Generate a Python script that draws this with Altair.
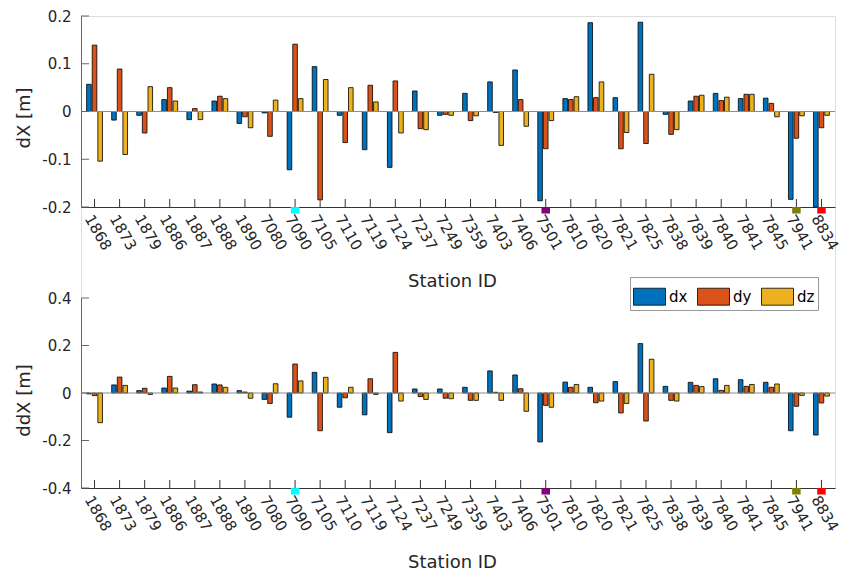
import altair as alt
import pandas as pd

stations = ["1868", "1873", "1879", "1886", "1887", "1888", "1890", "7080", "7090", "7105",
            "7110", "7119", "7124", "7237", "7249", "7359", "7403", "7406", "7501", "7810",
            "7820", "7821", "7825", "7838", "7839", "7840", "7841", "7845", "7941", "8834"]

top_dx = [0.057, -0.018, -0.008, 0.025, -0.017, 0.022, -0.025, -0.003, -0.122, 0.094,
          -0.008, -0.080, -0.117, 0.043, -0.008, 0.038, 0.062, 0.087, -0.187, 0.027,
          0.186, 0.029, 0.187, -0.006, 0.022, 0.038, 0.027, 0.028, -0.184, -0.215]
top_dy = [0.139, 0.089, -0.045, 0.050, 0.006, 0.032, -0.011, -0.052, 0.141, -0.185,
          -0.065, 0.055, 0.064, -0.036, -0.006, -0.019, -0.002, 0.025, -0.078, 0.025,
          0.029, -0.078, -0.067, -0.048, 0.032, 0.023, 0.036, 0.017, -0.056, -0.034]
top_dz = [-0.104, -0.090, 0.052, 0.022, -0.017, 0.027, -0.034, 0.024, 0.027, 0.067,
          0.050, 0.020, -0.045, -0.038, -0.008, -0.009, -0.071, -0.031, -0.019, 0.031,
          0.062, -0.044, 0.078, -0.038, 0.034, 0.030, 0.036, -0.011, -0.009, -0.008]

bot_dx = [-0.004, 0.034, 0.010, 0.021, 0.008, 0.038, 0.010, -0.027, -0.102, 0.087,
          -0.060, -0.092, -0.167, 0.017, 0.017, 0.024, 0.093, 0.076, -0.206, 0.046,
          0.024, 0.048, 0.208, 0.028, 0.045, 0.060, 0.056, 0.045, -0.159, -0.177]
bot_dy = [-0.011, 0.067, 0.020, 0.070, 0.035, 0.034, 0.004, -0.044, 0.122, -0.159,
          -0.020, 0.060, 0.171, -0.015, -0.022, -0.031, 0.003, 0.018, -0.052, 0.024,
          -0.041, -0.084, -0.118, -0.031, 0.032, 0.011, 0.028, 0.024, -0.056, -0.042]
bot_dz = [-0.125, 0.032, -0.006, 0.021, 0.004, 0.024, -0.022, 0.039, 0.051, 0.066,
          0.024, -0.006, -0.034, -0.027, -0.024, -0.031, -0.031, -0.077, -0.060, 0.036,
          -0.034, -0.044, 0.142, -0.034, 0.027, 0.032, 0.036, 0.038, -0.010, -0.013]

components = ["dx", "dy", "dz"]
comp_colors = ["#0072BD", "#D95319", "#EDB120"]

marker_stations = ["7090", "7501", "7941", "8834"]
marker_colors = ["#00FFFF", "#800080", "#808000", "#FF0000"]

top_ticks = [-0.2, -0.1, 0, 0.1, 0.2]
bot_ticks = [-0.4, -0.2, 0, 0.2, 0.4]

FONT = "DejaVu Sans"
TXT = "#262626"
W = 754          # plot width
TOTAL_H = 472    # from top of upper panel to bottom of lower panel
TOP_RANGE = [191, 0]
BOT_RANGE = [472, 282]


def long_df(dx, dy, dz):
    rows = []
    for comp, vals in zip(components, [dx, dy, dz]):
        for s, v in zip(stations, vals):
            rows.append({"station": s, "comp": comp, "value": v})
    return pd.DataFrame(rows)


legend = alt.Legend(
    title=None, orient="none", legendX=549, legendY=261, direction="horizontal",
    symbolType="M-1,-0.53H1V0.53H-1Z", symbolSize=1024, symbolStrokeColor="black",
    symbolStrokeWidth=0.8, symbolOpacity=1, labelFont=FONT, labelFontSize=15,
    labelColor="black", labelOffset=3, columnPadding=7, padding=3,
    strokeColor="#999999", fillColor="white",
)


def panel(dx, dy, dz, ticks, ytitle, yrange, title_y):
    bottom_px = yrange[0]
    ysc = alt.Scale(domain=[ticks[0], ticks[-1]], range=yrange, nice=False, zero=False,
                    clamp=True)
    xsc = alt.Scale(paddingInner=0, paddingOuter=0.04)
    xaxis = alt.Axis(
        orient="bottom", offset=bottom_px - TOTAL_H,
        title="Station ID", labelAngle=60, labelAlign="left", labelBaseline="top",
        labelPadding=5, ticks=False, tickSize=0, domainColor="#333333", domainWidth=1,
        labelColor=TXT, labelFont=FONT, labelFontSize=15, labelOverlap=False,
        titleFont=FONT, titleFontSize=18, titleFontWeight="normal", titleColor=TXT,
        titlePadding=20, titleX=371,
    )
    yaxis = alt.Axis(
        orient="left", title=ytitle, values=ticks, labelExpr="toString(datum.value)",
        ticks=False, tickSize=0, labelPadding=10, domainColor="#666666", domainWidth=1,
        labelColor=TXT, labelFont=FONT, labelFontSize=15, grid=False,
        titleFont=FONT, titleFontSize=18, titleFontWeight="normal", titleColor=TXT,
        titlePadding=8, titleY=title_y,
    )
    df = long_df(dx, dy, dz)
    bars = alt.Chart(df).mark_bar(stroke="black", strokeWidth=0.8).encode(
        x=alt.X("station:N", sort=stations, scale=xsc, axis=xaxis),
        xOffset=alt.XOffset("comp:N", sort=components,
                            scale=alt.Scale(paddingInner=0.18, paddingOuter=0.82)),
        y=alt.Y("value:Q", scale=ysc, axis=yaxis),
        color=alt.Color("comp:N", scale=alt.Scale(domain=components, range=comp_colors),
                        legend=legend),
    )
    zero = alt.Chart(pd.DataFrame({"value": [0]})).mark_rule(
        color="#8c8c8c", strokeWidth=1).encode(y=alt.Y("value:Q", scale=ysc))
    xt = alt.Chart(pd.DataFrame({"station": stations})).mark_rule(
        color="#333333", strokeWidth=1).encode(
        x=alt.X("station:N", sort=stations, scale=xsc),
        y=alt.value(bottom_px), y2=alt.value(bottom_px - 8))
    yt = alt.Chart(pd.DataFrame({"value": ticks})).mark_rule(
        color="#666666", strokeWidth=1).encode(
        y=alt.Y("value:Q", scale=ysc), x=alt.value(0), x2=alt.value(8))
    mk = alt.Chart(pd.DataFrame({"station": marker_stations, "mc": marker_colors})).mark_point(
        shape="M-1,-0.76H1V0.76H-1Z", size=72, filled=True, opacity=1, strokeWidth=0).encode(
        x=alt.X("station:N", sort=stations, scale=xsc),
        y=alt.value(bottom_px + 3.3),
        fill=alt.Fill("mc:N", scale=None),
    )
    return alt.layer(bars, zero, xt, yt, mk)


top = panel(top_dx, top_dy, top_dz, top_ticks, "dX [m]", TOP_RANGE, 101.5)
bottom = panel(bot_dx, bot_dy, bot_dz, bot_ticks, "ddX [m]", BOT_RANGE, 384)

chart = alt.layer(top, bottom).resolve_scale(
    x="independent", y="independent"
).resolve_axis(
    x="independent", y="independent"
).properties(
    width=W, height=TOTAL_H,
    autosize=alt.AutoSizeParams(type="none"),
    padding={"left": 81, "top": 16, "right": 845 - 81 - W, "bottom": 88},
).configure_view(stroke=None).configure(background="white")

chart.save("out.html", embed_options={"renderer": "svg", "actions": False})
